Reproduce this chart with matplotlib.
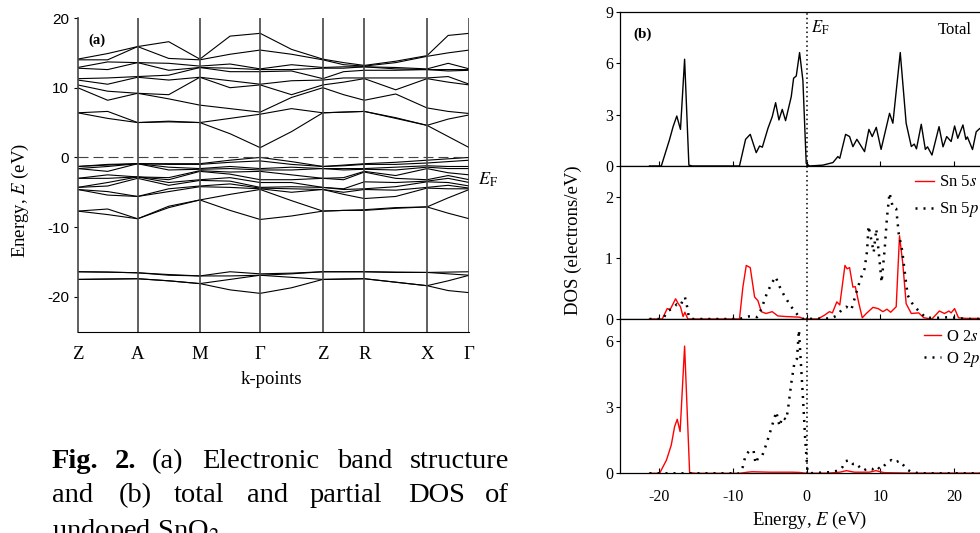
import numpy as np
import matplotlib.pyplot as plt

plt.rcParams['font.family'] = ['Liberation Serif', 'DejaVu Serif']
plt.rcParams['mathtext.fontset'] = 'stix'
plt.rcParams['axes.unicode_minus'] = False

# ---------------- (a) band structure ----------------
kpt_labels = ['Z', 'A', 'M', 'Γ', 'Z', 'R', 'X', 'Γ']
kpt_pos = [0.0, 0.153, 0.312, 0.466, 0.626, 0.732, 0.892, 1.0]

# energies (eV) at nodes: Z, mid, A, mid, M, mid, G, mid, Z, mid, R, mid, X, mid, G
lower_bands = [
    [-16.4, -16.45, -16.55, -16.9, -17.0, -16.4, -16.7, -16.6, -16.4, -16.4, -16.4, -16.45, -16.5, -16.45, -16.4],
    [-16.4, -16.45, -16.55, -16.8, -17.0, -17.0, -16.9, -16.7, -16.4, -16.4, -16.4, -16.5, -16.5, -16.7, -16.9],
    [-17.5, -17.45, -17.4, -17.7, -18.1, -17.5, -16.9, -17.2, -17.5, -17.45, -17.4, -17.9, -18.4, -17.7, -16.9],
    [-17.5, -17.45, -17.4, -17.7, -18.1, -19.0, -19.5, -18.7, -17.5, -17.45, -17.4, -17.9, -18.4, -19.1, -19.4],
]

# valence bands, one list per node (12 bands each)
valence_nodes = [
    [-1.3, -1.3, -1.6, -1.6, -3.0, -3.0, -4.3, -4.3, -4.6, -4.6, -7.7, -7.7],
    [-1.0, -1.1, -1.3, -2.0, -2.5, -3.0, -3.6, -4.1, -4.9, -5.4, -7.4, -8.2],
    [-0.9, -0.9, -0.9, -0.9, -2.8, -2.8, -2.8, -3.0, -5.6, -5.6, -8.8, -8.8],
    [-0.9, -1.0, -1.4, -1.8, -2.9, -3.2, -3.6, -4.0, -4.5, -4.9, -7.0, -7.2],
    [-0.9, -1.0, -1.6, -1.7, -1.9, -2.0, -3.2, -3.3, -4.1, -4.2, -6.1, -6.1],
    [-0.4, -0.7, -1.3, -1.6, -2.1, -2.4, -2.9, -3.4, -3.8, -4.3, -5.3, -7.6],
    [0.0, -0.5, -1.6, -1.8, -2.0, -3.2, -3.6, -4.3, -4.4, -4.5, -4.6, -8.9],
    [-0.6, -1.0, -1.4, -1.8, -2.5, -3.2, -3.6, -4.2, -4.5, -5.0, -6.2, -8.4],
    [-1.3, -1.3, -1.6, -1.6, -3.0, -3.0, -4.3, -4.3, -4.6, -4.6, -7.7, -7.7],
    [-1.1, -1.2, -1.6, -1.8, -2.9, -3.2, -4.5, -4.6, -5.0, -5.3, -7.6, -7.6],
    [-0.9, -1.0, -1.6, -1.7, -2.0, -2.1, -3.5, -4.5, -4.6, -5.9, -7.5, -7.6],
    [-0.7, -1.0, -1.4, -1.8, -2.6, -3.0, -3.6, -4.2, -4.7, -5.6, -7.2, -7.3],
    [-0.4, -0.8, -1.2, -1.4, -1.6, -3.2, -3.4, -3.5, -4.3, -4.4, -7.1, -7.1],
    [-0.2, -0.6, -1.3, -1.6, -2.2, -2.6, -3.0, -3.6, -4.0, -4.5, -5.8, -8.0],
    [0.0, -0.4, -1.3, -1.6, -2.5, -3.2, -3.6, -4.1, -4.4, -4.5, -4.6, -8.8],
]

# conduction bands, one list per node (10 bands each)
conduction_nodes = [
    [6.4, 6.4, 10.0, 10.4, 11.1, 11.3, 12.8, 12.9, 14.0, 14.1],
    [5.6, 6.6, 8.2, 9.5, 10.5, 11.4, 12.6, 13.7, 14.0, 14.9],
    [5.0, 5.0, 9.2, 9.2, 11.5, 11.6, 13.6, 13.6, 15.9, 15.9],
    [5.1, 5.2, 8.4, 9.0, 11.1, 11.8, 12.5, 13.5, 14.2, 16.6],
    [5.0, 5.0, 7.5, 11.5, 11.5, 12.9, 12.9, 13.1, 14.0, 14.1],
    [3.4, 5.6, 7.0, 10.0, 11.0, 12.3, 12.8, 13.4, 14.8, 17.4],
    [1.4, 6.2, 6.5, 10.4, 10.5, 12.3, 12.6, 12.7, 15.4, 17.8],
    [3.7, 7.0, 8.6, 9.0, 11.0, 12.4, 12.6, 13.3, 14.8, 15.5],
    [6.4, 6.4, 10.0, 10.4, 11.1, 11.3, 12.8, 12.9, 14.0, 14.1],
    [6.5, 6.5, 9.0, 10.8, 11.4, 12.3, 12.8, 13.0, 13.3, 13.6],
    [6.6, 6.6, 8.2, 11.3, 11.4, 12.5, 13.0, 13.0, 13.1, 13.2],
    [5.6, 5.7, 9.1, 9.7, 11.4, 12.5, 12.7, 12.9, 13.6, 13.8],
    [4.6, 4.6, 7.1, 11.3, 11.4, 12.6, 12.6, 12.7, 14.5, 14.6],
    [3.0, 5.5, 6.6, 10.8, 11.6, 12.4, 12.6, 13.5, 15.0, 17.5],
    [1.4, 6.1, 6.3, 10.4, 10.5, 12.5, 12.6, 12.7, 15.4, 17.8],
]

# ---------------- (b) DOS (energy eV, electrons/eV) ----------------
total_dos = [(-21.3, 0), (-19.7, 0), (-18.6, 1.52), (-18.1, 2.3), (-17.6, 2.92), (-17.1, 2.14),
             (-16.54, 6.24), (-15.96, 0.05), (-15.5, 0), (-9.1, 0), (-8.27, 1.56), (-7.64, 1.85),
             (-6.83, 0.78), (-6.37, 1.17), (-6.0, 1.1), (-5.24, 2.2), (-4.66, 2.88), (-4.2, 3.7),
             (-3.75, 2.69), (-3.3, 3.31), (-2.85, 2.65), (-2.08, 4.05), (-1.76, 5.13), (-1.4, 5.26),
             (-0.95, 6.63), (-0.5, 5.0), (-0.05, 0.15), (0.4, 0), (2.2, 0.05), (3.57, 0.2),
             (4.24, 0.55), (4.5, 0.45), (5.29, 1.85), (5.83, 1.72), (6.28, 1.13), (6.82, 1.56),
             (7.86, 0.84), (8.45, 2.14), (8.9, 1.72), (9.45, 2.26), (10.1, 0.97), (11.25, 3.08),
             (11.7, 2.5), (12.7, 6.63), (13.5, 2.5), (14.2, 1.14), (14.6, 1.28), (14.9, 1.0),
             (15.55, 2.44), (16.1, 0.97), (16.4, 1.12), (17.0, 0.64), (17.96, 2.3), (18.5, 1.12),
             (19.0, 1.72), (19.6, 1.43), (20.07, 2.34), (20.5, 1.62), (21.2, 2.4), (21.6, 1.55),
             (21.8, 1.7), (22.5, 0.96), (23.0, 2.0), (23.5, 2.2), (25.0, 1.5)]

sn5s_dos = [(-21.3, 0), (-19.57, 0), (-18.9, 0.17), (-18.5, 0.155), (-17.76, 0.33), (-17.45, 0.26),
            (-17.1, 0.2), (-16.75, 0.04), (-16.5, 0.11), (-16.1, 0), (-9.1, 0), (-8.64, 0.52),
            (-8.18, 0.875), (-7.64, 0.84), (-7.05, 0.36), (-6.6, 0.3), (-6.14, 0.12), (-5.5, 0.09),
            (-4.66, 0.12), (-3.9, 0.05), (-2.76, 0.04), (-0.95, 0.03), (-0.3, 0), (1.5, 0),
            (2.4, 0.06), (3.1, 0.12), (3.5, 0.1), (4.1, 0.28), (4.5, 0.23), (5.2, 0.875),
            (5.5, 0.82), (5.83, 0.84), (6.28, 0.52), (6.6, 0.53), (7.1, 0.25), (7.55, 0.02),
            (8.1, 0.09), (9.0, 0.19), (9.7, 0.17), (10.35, 0.12), (10.9, 0.16), (11.4, 0.11),
            (12.15, 0.2), (12.6, 1.36), (13.05, 0.9), (13.5, 0.25), (14.2, 0.09), (15.2, 0.1),
            (15.9, 0.02), (17.0, 0), (18.0, 0.13), (18.7, 0.09), (19.3, 0.13), (19.6, 0.1),
            (20.07, 0.17), (20.6, 0.02), (21.6, 0.01), (25.0, 0.01)]

sn5p_dos = [(-21.3, 0), (-19.5, 0), (-18.8, 0.13), (-18.1, 0.18), (-17.6, 0.24), (-17.1, 0.22),
            (-16.8, 0.3), (-16.5, 0.36), (-16.2, 0.2), (-15.96, 0.03), (-15.5, 0), (-9.1, 0),
            (-8.0, 0.04), (-7.3, 0.05), (-6.73, 0.03), (-6.14, 0.16), (-5.47, 0.39), (-4.8, 0.57),
            (-4.2, 0.69), (-3.66, 0.53), (-2.98, 0.37), (-2.08, 0.2), (-1.17, 0.06), (-0.5, 0),
            (3.3, 0.01), (4.0, 0.05), (4.7, 0.14), (5.38, 0.2), (6.06, 0.15), (6.5, 0.33),
            (6.96, 0.52), (7.4, 0.68), (7.86, 0.82), (8.2, 1.11), (8.4, 1.52), (8.8, 1.28),
            (9.1, 1.09), (9.45, 1.47), (9.8, 1.07), (10.17, 0.6), (10.6, 1.16), (10.9, 1.66),
            (11.25, 2.06), (11.7, 1.82), (12.15, 1.8), (12.5, 1.39), (12.96, 1.12), (13.4, 0.68),
            (13.7, 0.39), (14.3, 0.26), (14.9, 0.17), (15.55, 0.09), (16.2, 0.02), (18.0, 0.02),
            (19.4, 0.03), (21.6, 0), (25.0, 0)]

o2s_dos = [(-21.3, 0), (-19.93, 0), (-19.0, 0.6), (-18.35, 1.28), (-17.9, 2.11), (-17.54, 2.45),
           (-17.15, 1.89), (-16.54, 5.77), (-15.86, 0.03), (-15.0, 0), (-9.1, 0), (-8.0, 0.05),
           (-7.4, 0.07), (-5.0, 0.05), (-2.0, 0.05), (-1.0, 0.04), (0.0, 0), (3.0, 0.01),
           (4.5, 0.05), (5.4, 0.12), (6.5, 0.05), (8.5, 0.05), (9.4, 0.12), (10.5, 0.03),
           (14.0, 0.01), (25.0, 0.01)]

o2p_dos = [(-21.3, 0), (-9.1, 0), (-8.64, 0.3), (-8.27, 0.83), (-7.8, 1.0), (-7.2, 1.05),
           (-6.92, 0.45), (-6.5, 0.75), (-5.98, 0.83), (-5.43, 1.35), (-4.79, 2.04), (-4.11, 2.79),
           (-3.66, 2.13), (-3.3, 2.55), (-2.76, 2.43), (-2.53, 2.88), (-2.08, 4.08), (-1.63, 5.06),
           (-1.3, 5.2), (-1.04, 6.5), (-0.5, 3.47), (-0.18, 1.5), (0.1, 0.2), (0.3, 0),
           (3.1, 0.05), (4.47, 0.13), (4.9, 0.3), (5.29, 0.55), (5.83, 0.6), (6.28, 0.42),
           (6.82, 0.45), (7.2, 0.27), (7.7, 0.12), (8.3, 0.23), (8.9, 0.18), (9.5, 0.33),
           (9.95, 0.18), (10.4, 0.3), (10.9, 0.48), (11.48, 0.6), (11.9, 0.48), (12.6, 0.57),
           (13.1, 0.38), (13.6, 0.18), (14.2, 0.06), (14.9, 0.02), (16.0, 0), (25.0, 0)]

W, H = 980, 533
fig = plt.figure(figsize=(W / 100, H / 100), dpi=100)

# ---------- panel (a) ----------
axa = fig.add_axes([77.7 / W, 1 - 331.7 / H, 391.6 / W, 313.7 / H])
k_nodes = []
for i in range(len(kpt_pos) - 1):
    k_nodes += [kpt_pos[i], (kpt_pos[i] + kpt_pos[i + 1]) / 2]
k_nodes.append(kpt_pos[-1])

for band in lower_bands:
    axa.plot(k_nodes, band, color='black', lw=0.8)
for band in np.array(valence_nodes).T:
    axa.plot(k_nodes, band, color='black', lw=0.8)
for band in np.array(conduction_nodes).T:
    axa.plot(k_nodes, band, color='black', lw=0.8)

for k in kpt_pos[1:]:
    axa.axvline(k, color='#444444', lw=1.2)
axa.axhline(0, color='#444444', lw=0.8, ls=(0, (9, 4.5)))
axa.set_xlim(0, 1)
axa.set_ylim(-25, 20)
for s in ['top', 'right']:
    axa.spines[s].set_visible(False)
axa.spines['left'].set_color('#444444')
axa.spines['left'].set_linewidth(1.2)
axa.set_yticks([-20, -10, 0, 10, 20])
axa.set_yticklabels(['-20', '-10', '0', '10', '20'], family='Liberation Sans', fontsize=11)
axa.tick_params(axis='y', direction='out', length=3, pad=3)
axa.set_xticks(kpt_pos)
axa.set_xticklabels(kpt_labels, fontsize=13.5)
axa.tick_params(axis='x', length=0, pad=10)
axa.text(0.028, 0.93, '(a)', transform=axa.transAxes, fontsize=10.5, fontweight='bold', va='center')

fig.text(20 / W, 1 - 200 / H, 'Energy, $E$ (eV)', rotation=90, fontsize=13.5, ha='center', va='center')
fig.text(271 / W, 1 - 379 / H, 'k-points', fontsize=13.5, ha='center', va='center')
fig.text(478 / W, 1 - 180 / H, r'$E_{\rm F}$', fontsize=13, va='center')

# caption
cap1 = [('Fig.', 51.7, 'bold'), ('2.', 115, 'bold'), ('(a)', 151.7, 'normal'), ('Electronic', 201.7, 'normal'),
        ('band', 336.7, 'normal'), ('structure', 410, 'normal')]
cap2 = [('and', 51.7), ('(b)', 118.3), ('total', 173.3), ('and', 246.7), ('partial', 310), ('DOS', 408.3), ('of', 485)]
for word, x, wt in cap1:
    fig.text(x / W, 1 - 468 / H, word, fontsize=20.5, fontweight=wt, va='baseline')
for word, x in cap2:
    fig.text(x / W, 1 - 501.7 / H, word, fontsize=20.5, va='baseline')
fig.text(51.7 / W, 1 - 538 / H, 'undoped SnO$_2$', fontsize=20.5, va='baseline')

# ---------- panel (b) ----------
xl, xr = -25.3, 25.0
left = 620 / W
width = (xr - xl) * 7.375 / W
ax1 = fig.add_axes([left, 1 - 166 / H, width, 154 / H])
ax2 = fig.add_axes([left, 1 - 319 / H, width, 153 / H])
ax3 = fig.add_axes([left, 1 - 473.3 / H, width, 154.3 / H])

dot = (0, (0.8, 2.4))
e, d = zip(*total_dos)
ax1.plot(e, d, color='black', lw=1.0)
e, d = zip(*sn5s_dos)
ax2.plot(e, d, color='red', lw=1.0, label='Sn 5$s$')
e, d = zip(*sn5p_dos)
ax2.plot(e, d, color='black', lw=1.8, ls=dot, label='Sn 5$p$')
e, d = zip(*o2s_dos)
ax3.plot(e, d, color='red', lw=1.0, label='O 2$s$')
e, d = zip(*o2p_dos)
ax3.plot(e, d, color='black', lw=1.8, ls=dot, label='O 2$p$')

for ax, top, ticks in [(ax1, 9, [0, 3, 6, 9]), (ax2, 2.5, [0, 1, 2]), (ax3, 7, [0, 3, 6])]:
    ax.axvline(0, color='black', lw=1.1, ls=(0, (1, 2)))
    ax.set_xlim(xl, xr)
    ax.set_ylim(0, top)
    ax.set_yticks(ticks)
    ax.set_xticks([-20, -10, 0, 10, 20])
    ax.tick_params(axis='x', direction='in', length=3.5, labelsize=11.5, pad=11)
    ax.tick_params(axis='y', direction='out', length=3, labelsize=11.5, pad=2)
    for s in ax.spines.values():
        s.set_linewidth(0.9)
ax1.tick_params(labelbottom=False)
ax2.tick_params(labelbottom=False)

ax1.text(0.035, 0.855, '(b)', transform=ax1.transAxes, fontsize=11, fontweight='bold', va='center')
fig.text(811 / W, 1 - 28 / H, r'$E_{\rm F}$', fontsize=12, va='center')
fig.text(938 / W, 1 - 30 / H, 'Total', fontsize=12, va='center')

ax2.legend(loc='upper left', bbox_to_anchor=(0.795, 0.945), frameon=False, fontsize=12,
           handlelength=1.15, handletextpad=0.3, labelspacing=0.6, borderpad=0, borderaxespad=0)
ax3.legend(loc='upper left', bbox_to_anchor=(0.82, 0.935), frameon=False, fontsize=12,
           handlelength=1.0, handletextpad=0.3, labelspacing=0.3, borderpad=0, borderaxespad=0)

fig.text(810 / W, 1 - 520 / H, 'Energy, $E$ (eV)', fontsize=13.5, ha='center', va='center')
fig.text(573 / W, 1 - 240 / H, 'DOS (electrons/eV)', rotation=90, fontsize=13.5, ha='center', va='center')

fig.savefig('out.png', dpi=100)
